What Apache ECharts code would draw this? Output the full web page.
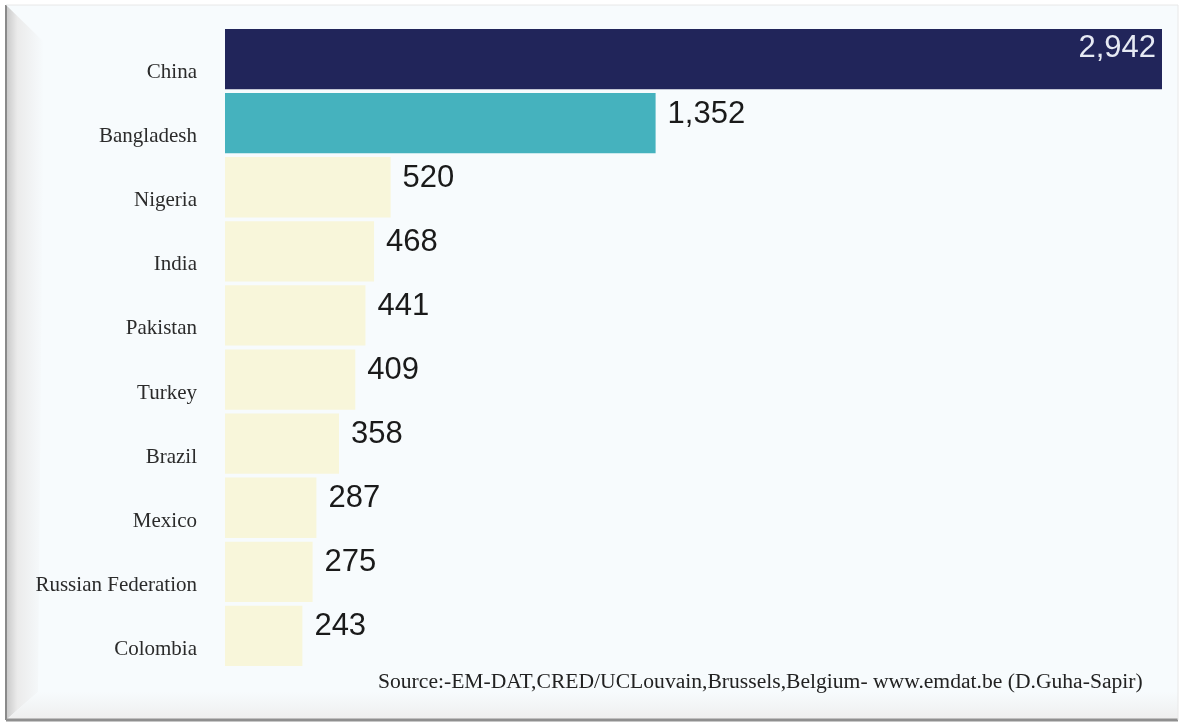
<!DOCTYPE html>
<html>
<head>
<meta charset="utf-8">
<script src="https://cdn.jsdelivr.net/npm/echarts@6/dist/echarts.min.js"></script>
<style>
    body{margin:0;background:#fff;}
    #myChart{width:1181px;height:724px;}
</style>
</head>
<body>
<div id="myChart"></div>
<script>
    // countries, top to bottom
    const countries = ['China', 'Bangladesh', 'Nigeria', 'India', 'Pakistan', 'Turkey', 'Brazil', 'Mexico', 'Russian Federation', 'Colombia']
    const events = [2942, 1352, 520, 468, 441, 409, 358, 287, 275, 243]
    const barColors = ['#21255a', '#45b2be', '#f8f6da', '#f8f6da', '#f8f6da', '#f8f6da', '#f8f6da', '#f8f6da', '#f8f6da', '#f8f6da']
    const sourceText = 'Source:-EM-DAT,CRED/UCLouvain,Brussels,Belgium- www.emdat.be (D.Guha-Sapir)'

    let myChart = echarts.init(document.getElementById('myChart'))

    let data = events.map(function (v, i) {
        let item = {value: v, itemStyle: {color: barColors[i]}}
        if (i === 0) {
            item.label = {position: 'insideRight', color: '#e6eaf4', offset: [6, -11]}
        }
        return item
    })

    let opt = {
        backgroundColor: '#ffffff',
        animation: false,
        graphic: [
            // inner panel
            {type: 'rect', z: -10, shape: {x: 6, y: 5, width: 1172, height: 715}, style: {fill: '#f7fbfd'}},
            // left bevel
            {type: 'polygon', z: -9, shape: {points: [[6, 5], [44, 42], [38, 692], [6, 720]]},
                style: {fill: new echarts.graphic.LinearGradient(0, 0, 1, 0, [
                    {offset: 0, color: '#c8c8c8'}, {offset: 0.3, color: '#ebebeb'}, {offset: 1, color: '#f7fbfd'}])}},
            // bottom bevel
            {type: 'polygon', z: -9, shape: {points: [[6, 720], [38, 692], [1178, 692], [1178, 720]]},
                style: {fill: new echarts.graphic.LinearGradient(0, 0, 0, 1, [
                    {offset: 0, color: '#f7fbfd'}, {offset: 1, color: '#eeeeee'}])}},
            // frame lines
            {type: 'line', z: -8, shape: {x1: 6, y1: 5, x2: 6, y2: 720}, style: {stroke: '#8a8a8a', lineWidth: 2}},
            {type: 'line', z: -8, shape: {x1: 6, y1: 720, x2: 1178, y2: 720}, style: {stroke: '#8f8f8f', lineWidth: 3}},
            {type: 'line', z: -8, shape: {x1: 6, y1: 5, x2: 1178, y2: 5}, style: {stroke: '#e8e8e8', lineWidth: 1}},
            {type: 'line', z: -8, shape: {x1: 1178, y1: 5, x2: 1178, y2: 720}, style: {stroke: '#e8e8e8', lineWidth: 1}},
            {
                type: 'text', left: 378, top: 671,
                style: {text: sourceText, fontFamily: 'Liberation Serif', fontSize: 21.6, fill: '#222'}
            }
        ],
        grid: {left: 225, right: 19, top: 27, bottom: 56},
        xAxis: {
            type: 'value',
            min: 0,
            max: 2942,
            show: false
        },
        yAxis: {
            type: 'category',
            inverse: true,
            data: countries,
            axisLine: {show: false},
            axisTick: {show: false},
            axisLabel: {
                margin: 28,
                fontFamily: 'Liberation Serif',
                fontSize: 21,
                color: '#2b2b2b',
                verticalAlign: 'top',
                lineHeight: 27
            }
        },
        series: [
            {
                type: 'bar',
                data: data,
                barCategoryGap: '6%',
                label: {
                    show: true,
                    position: 'right',
                    distance: 12,
                    offset: [0, -9],
                    fontFamily: 'Liberation Sans',
                    fontSize: 31,
                    color: '#1a1a1a',
                    formatter: function (p) {
                        return p.value.toLocaleString('en-US')
                    }
                }
            }
        ]
    }
    myChart.setOption(opt)
</script>
</body>
</html>
